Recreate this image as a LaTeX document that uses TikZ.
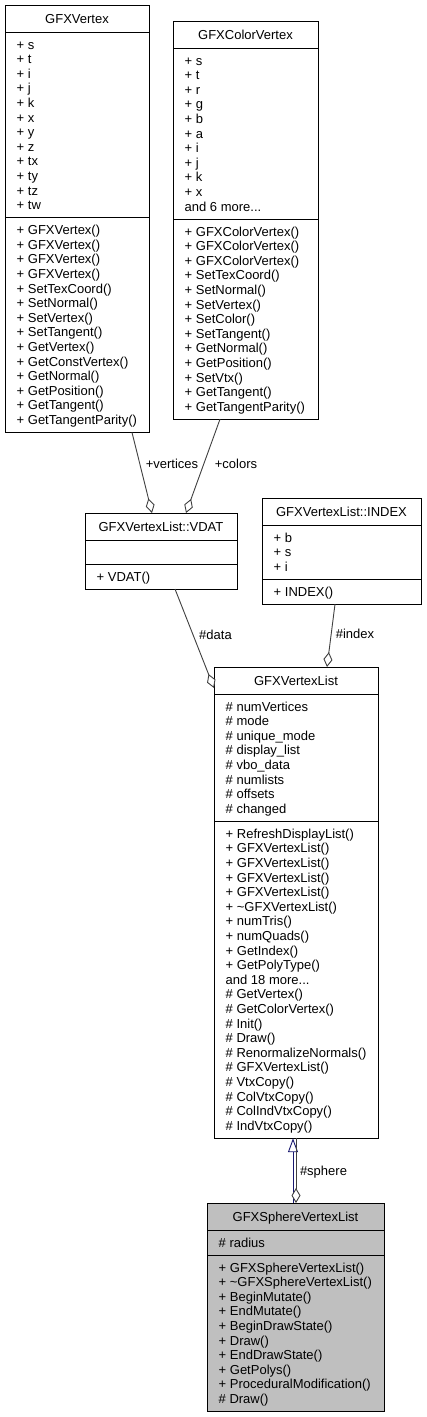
\documentclass[tikz,border=0pt]{standalone}
\usepackage{fontspec}
\setmainfont{Liberation Sans}
\usetikzlibrary{arrows.meta}
\definecolor{edgegrey}{HTML}{404040}
\definecolor{inhblue}{HTML}{191970}
\definecolor{curfill}{HTML}{BFBFBF}
\newcommand\dfont{\fontsize{13}{14.6}\selectfont}
\newcommand\umlrows[4]{\foreach \t [count=\i from 0] in {#4}{\node[mem] (#1-\i) at (#2,#3+\i*14.6+4.6) {\t};}}
\begin{document}
\begin{tikzpicture}[x=1pt,y=-1pt,
  box/.style={draw=black, line width=1pt, fill=white, inner sep=0pt, outer sep=0pt, anchor=north west},
  ttl/.style={font=\dfont, anchor=base, inner sep=0pt},
  mem/.style={font=\dfont, anchor=base west, inner sep=0pt},
  lbl/.style={font=\dfont, anchor=base, inner sep=0pt},
  sepline/.style={draw=black, line width=1pt},
  usage/.style={draw=edgegrey, line width=0.9pt, -{Diamond[open, fill=white, length=15pt, width=9pt]}},
  inherit/.style={draw=inhblue, line width=0.9pt, -{Triangle[open, fill=white, length=14pt, width=10pt]}}]

\fill[white] (0,0) rectangle (426,1417);
\useasboundingbox (0,0) rectangle (426,1417);

% GFXVertex
\node[box, minimum width=144pt, minimum height=427.4pt] (vtx) at (5,5) {};
\node[ttl] (vtx-t) at (77,23.1) {GFXVertex};
\draw[sepline] (5,32) -- (149,32);
\draw[sepline] (5,217.6) -- (149,217.6);
\umlrows{vtxa}{16.5}{44.5}{+ s,+ t,+ i,+ j,+ k,+ x,+ y,+ z,+ tx,+ ty,+ tz,+ tw}
\umlrows{vtxm}{16.5}{230.1}{+ GFXVertex(),+ GFXVertex(),+ GFXVertex(),+ GFXVertex(),+ SetTexCoord(),+ SetNormal(),+ SetVertex(),+ SetTangent(),+ GetVertex(),+ GetConstVertex(),+ GetNormal(),+ GetPosition(),+ GetTangent(),+ GetTangentParity()}

% GFXColorVertex
\node[box, minimum width=145pt, minimum height=398.2pt] (cvtx) at (173,21) {};
\node[ttl] (cvtx-t) at (245.5,39.1) {GFXColorVertex};
\draw[sepline] (173,48) -- (318,48);
\draw[sepline] (173,219) -- (318,219);
\umlrows{cvtxa}{184.5}{60.5}{+ s,+ t,+ r,+ g,+ b,+ a,+ i,+ j,+ k,+ x,and 6 more.{}.{}.}
\umlrows{cvtxm}{184.5}{231.5}{+ GFXColorVertex(),+ GFXColorVertex(),+ GFXColorVertex(),+ SetTexCoord(),+ SetNormal(),+ SetVertex(),+ SetColor(),+ SetTangent(),+ GetNormal(),+ GetPosition(),+ SetVtx(),+ GetTangent(),+ GetTangentParity()}

% VDAT
\node[box, minimum width=152pt, minimum height=76pt] (vdat) at (85,513) {};
\node[ttl] (vdat-t) at (161,531.1) {GFXVertexList::VDAT};
\draw[sepline] (85,540) -- (237,540);
\draw[sepline] (85,564) -- (237,564);
\umlrows{vdatm}{96.5}{576.5}{+ VDAT()}

% INDEX
\node[box, minimum width=159pt, minimum height=106.2pt] (idx) at (262,498) {};
\node[ttl] (idx-t) at (341.5,516.1) {GFXVertexList::INDEX};
\draw[sepline] (262,525) -- (421,525);
\draw[sepline] (262,579.2) -- (421,579.2);
\umlrows{idxa}{273.5}{537.5}{+ b,+ s,+ i}
\umlrows{idxm}{273.5}{591.7}{+ INDEX()}

% GFXVertexList
\node[box, minimum width=164pt, minimum height=471.2pt] (vlist) at (214,667) {};
\node[ttl] (vlist-t) at (296,685.1) {GFXVertexList};
\draw[sepline] (214,694) -- (378,694);
\draw[sepline] (214,821.2) -- (378,821.2);
\umlrows{vlista}{225.5}{706.5}{\# numVertices,\# mode,\# unique\_mode,\# display\_list,\# vbo\_data,\# numlists,\# offsets,\# changed}
\umlrows{vlistm}{225.5}{833.7}{+ RefreshDisplayList(),+ GFXVertexList(),+ GFXVertexList(),+ GFXVertexList(),+ GFXVertexList(),+ \textasciitilde GFXVertexList(),+ numTris(),+ numQuads(),+ GetIndex(),+ GetPolyType(),and 18 more.{}.{}.,\# GetVertex(),\# GetColorVertex(),\# Init(),\# Draw(),\# RenormalizeNormals(),\# GFXVertexList(),\# VtxCopy(),\# ColVtxCopy(),\# ColIndVtxCopy(),\# IndVtxCopy()}

% GFXSphereVertexList
\node[box, fill=curfill, minimum width=177pt, minimum height=208.4pt] (sph) at (207,1203) {};
\node[ttl] (sph-t) at (295.5,1221.1) {GFXSphereVertexList};
\draw[sepline] (207,1230) -- (384,1230);
\draw[sepline] (207,1255) -- (384,1255);
\umlrows{spha}{218.5}{1242.5}{\# radius}
\umlrows{sphm}{218.5}{1267.5}{+ GFXSphereVertexList(),+ \textasciitilde GFXSphereVertexList(),+ BeginMutate(),+ EndMutate(),+ BeginDrawState(),+ Draw(),+ EndDrawState(),+ GetPolys(),+ ProceduralModification(),\# Draw()}

% connectors
\draw[usage] ([xshift=55pt]vtx.south) -- ([xshift=-9pt]vdat.north);
\draw[usage] ([xshift=-25.5pt]cvtx.south) -- ([xshift=25pt]vdat.north);
\draw[usage] ([xshift=14pt]vdat.south) -- ([yshift=-21pt]vlist.north west);
\draw[usage] ([xshift=-6.5pt]idx.south) -- ([xshift=31pt]vlist.north);
\draw[inherit] ([xshift=-2.5pt]sph.north) -- ([xshift=-3pt]vlist.south);
\draw[usage] (vlist.south) -- ([xshift=0.5pt]sph.north);

% labels
\node[lbl] (l-vert) at (172,468.6) {+vertices};
\node[lbl] (l-col) at (236,468.6) {+colors};
\node[lbl] (l-data) at (215.5,639.6) {\#data};
\node[lbl] (l-idx) at (355,638.6) {\#index};
\node[lbl] (l-sph) at (323.5,1175.6) {\#sphere};
\end{tikzpicture}
\end{document}
